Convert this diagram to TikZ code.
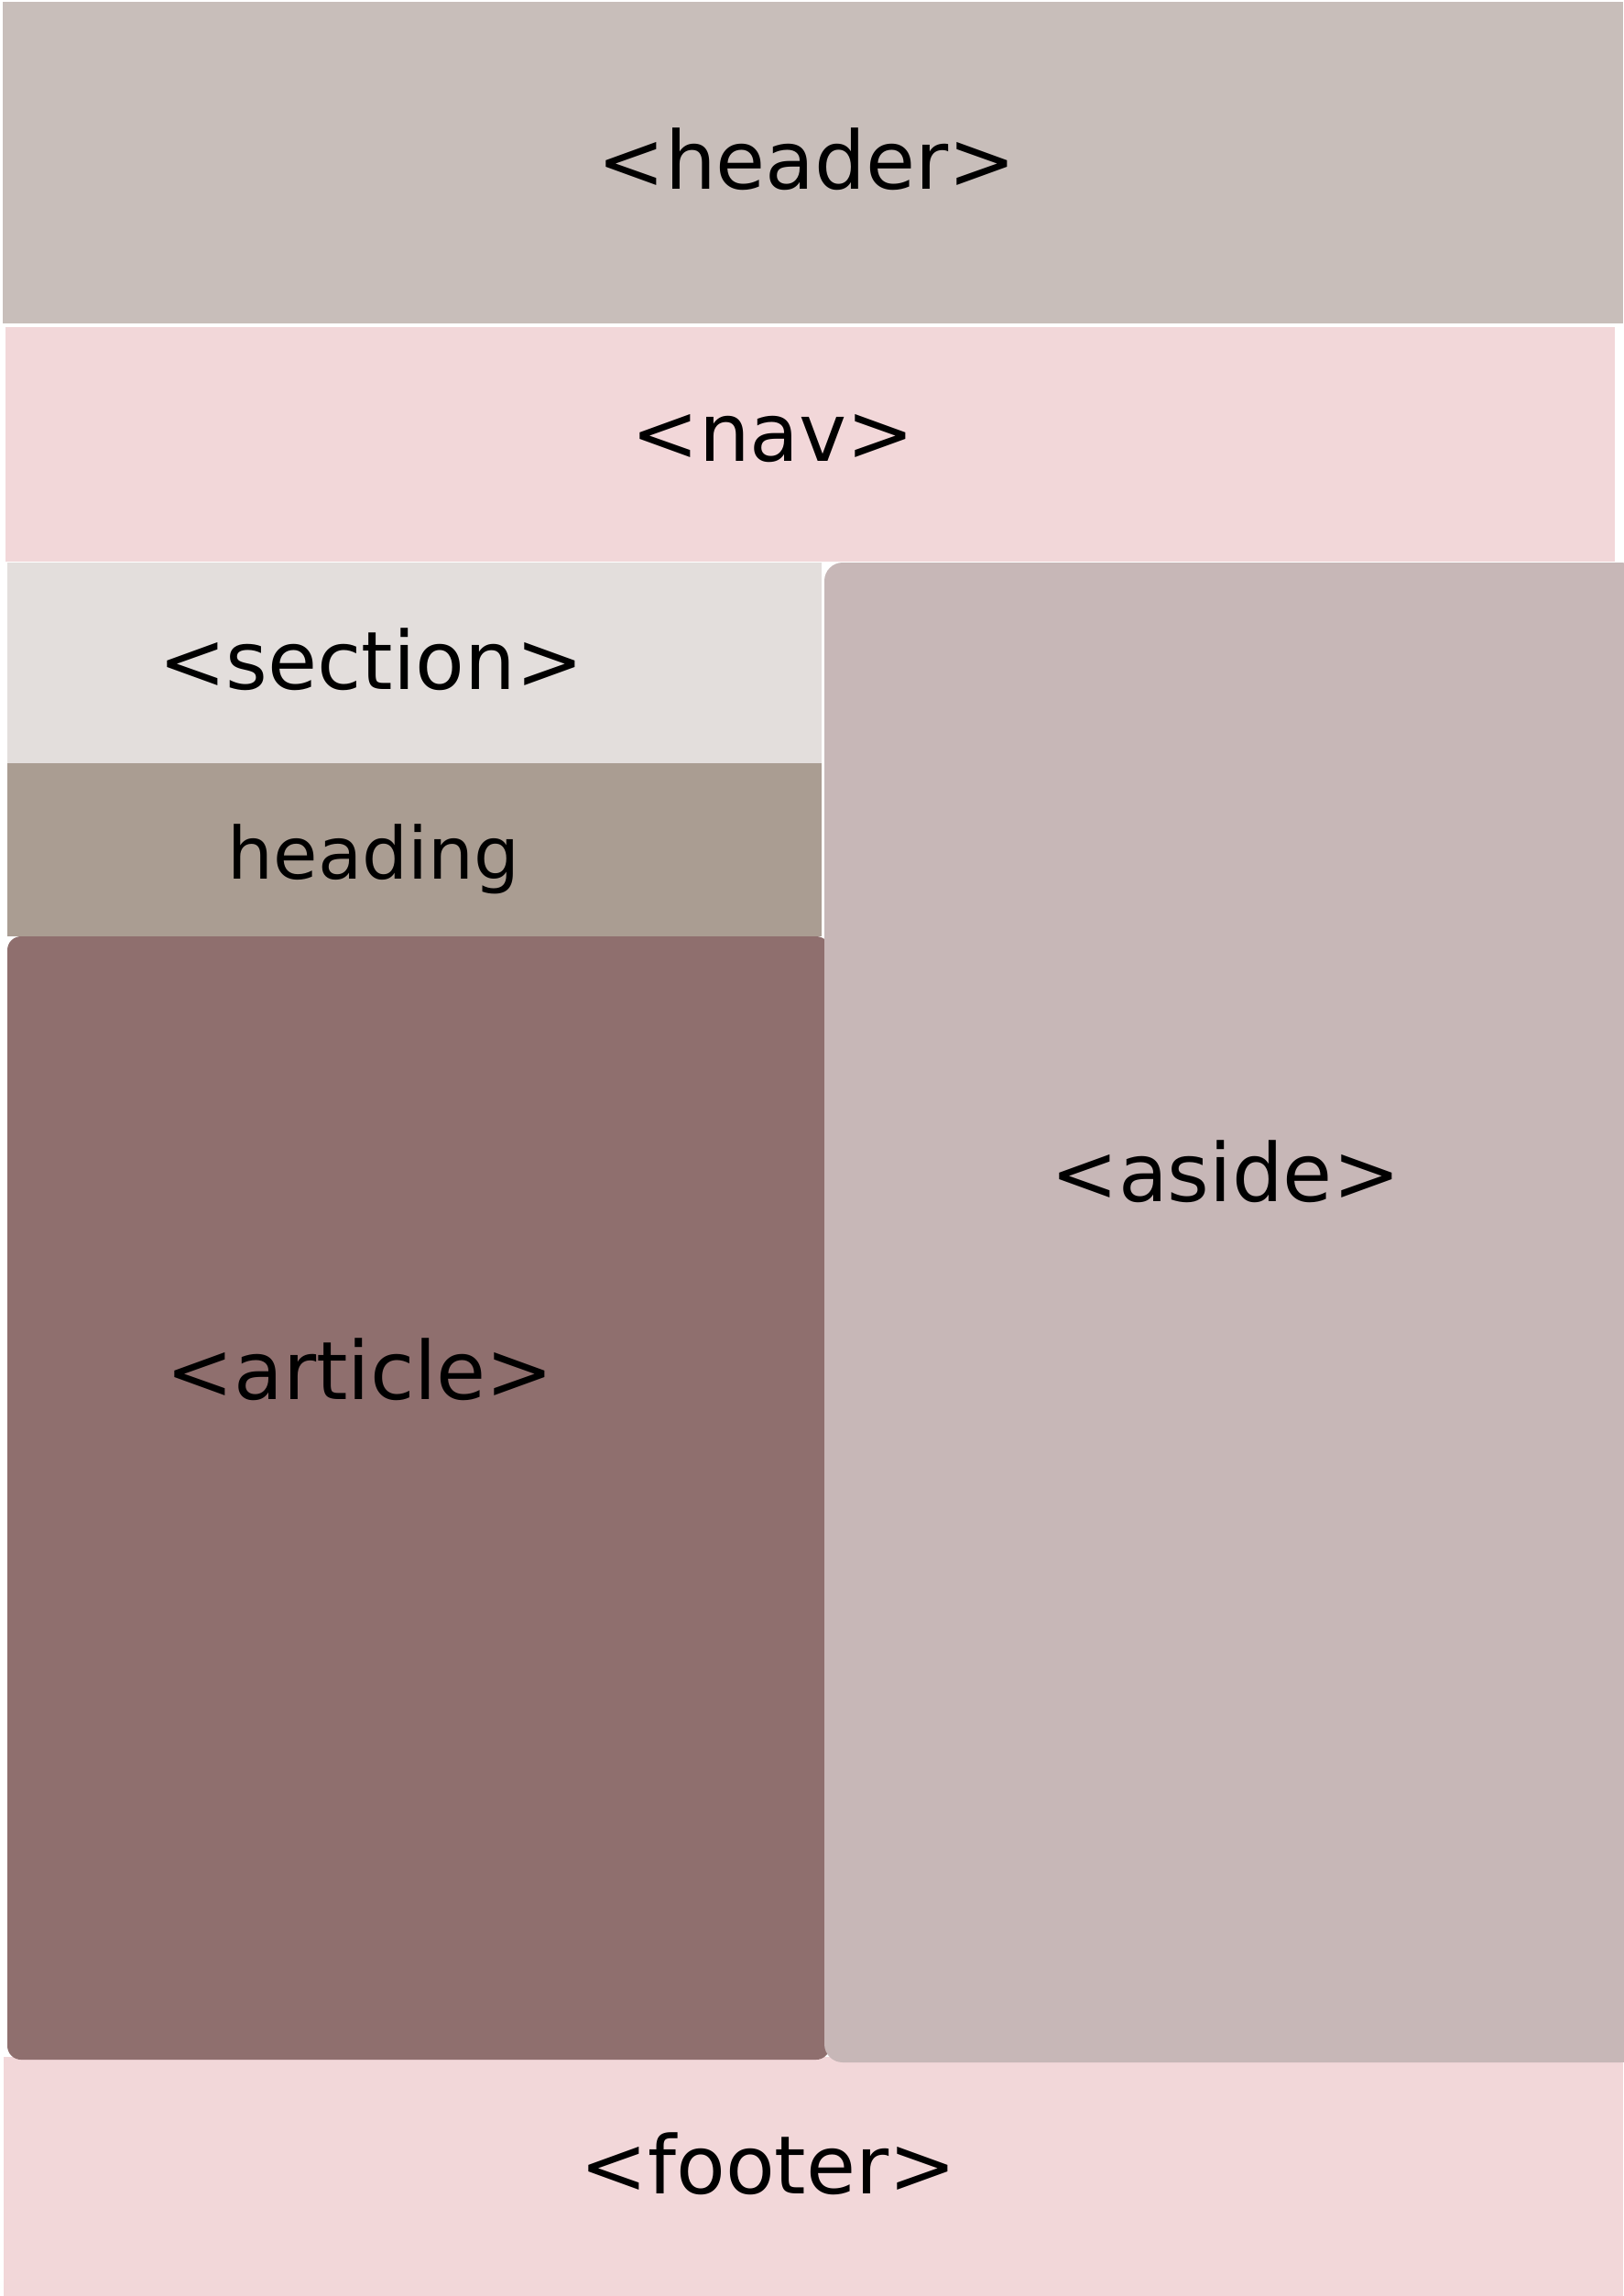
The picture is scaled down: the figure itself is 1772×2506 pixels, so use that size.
\documentclass[tikz,border=0pt]{standalone}
\usepackage{fontspec}
\setmainfont{DejaVu Sans}
\definecolor{headercol}{HTML}{C8BEBA}
\definecolor{navcol}{HTML}{F2D7D9}
\definecolor{sectioncol}{HTML}{E3DEDC}
\definecolor{headingcol}{HTML}{AA9D92}
\definecolor{articlecol}{HTML}{8F6F6E}
\definecolor{asidecol}{HTML}{C7B7B7}
\tikzset{
  tag/.style={anchor=base,inner sep=0pt,font=\fontsize{25}{30}\selectfont},
  small tag/.style={tag,font=\fontsize{22.4}{27}\selectfont}
}
\begin{document}
\begin{tikzpicture}[x=.01cm,y=-.01cm]
  \useasboundingbox (0,0) rectangle (1772,2506);
  \fill[white] (0,0) rectangle (1772,2506);
  \fill[headercol] (3,2) rectangle (1772,353);
  \fill[navcol] (6,357) rectangle (1763,613);
  \fill[sectioncol] (8,614) rectangle (897,833);
  \fill[headingcol] (8,833) rectangle (897,1022);
  \fill[navcol] (4,2245) rectangle (1772,2506);
  \fill[articlecol,rounded corners=.15cm] (8,1022) rectangle (906,2248);
  \fill[asidecol,rounded corners=.2cm] (900,614) rectangle (1790,2251);
  \node[tag] (header) at (881,207) {<header>};
  \node[tag] (nav) at (844,503) {<nav>};
  \node[tag] (section) at (405,752) {<section>};
  \node[small tag] (heading) at (408,959) {heading};
  \node[tag] (article) at (393,1527) {<article>};
  \node[tag] (aside) at (1338,1311) {<aside>};
  \node[tag] (footer) at (839,2394) {<footer>};
\end{tikzpicture}
\end{document}
